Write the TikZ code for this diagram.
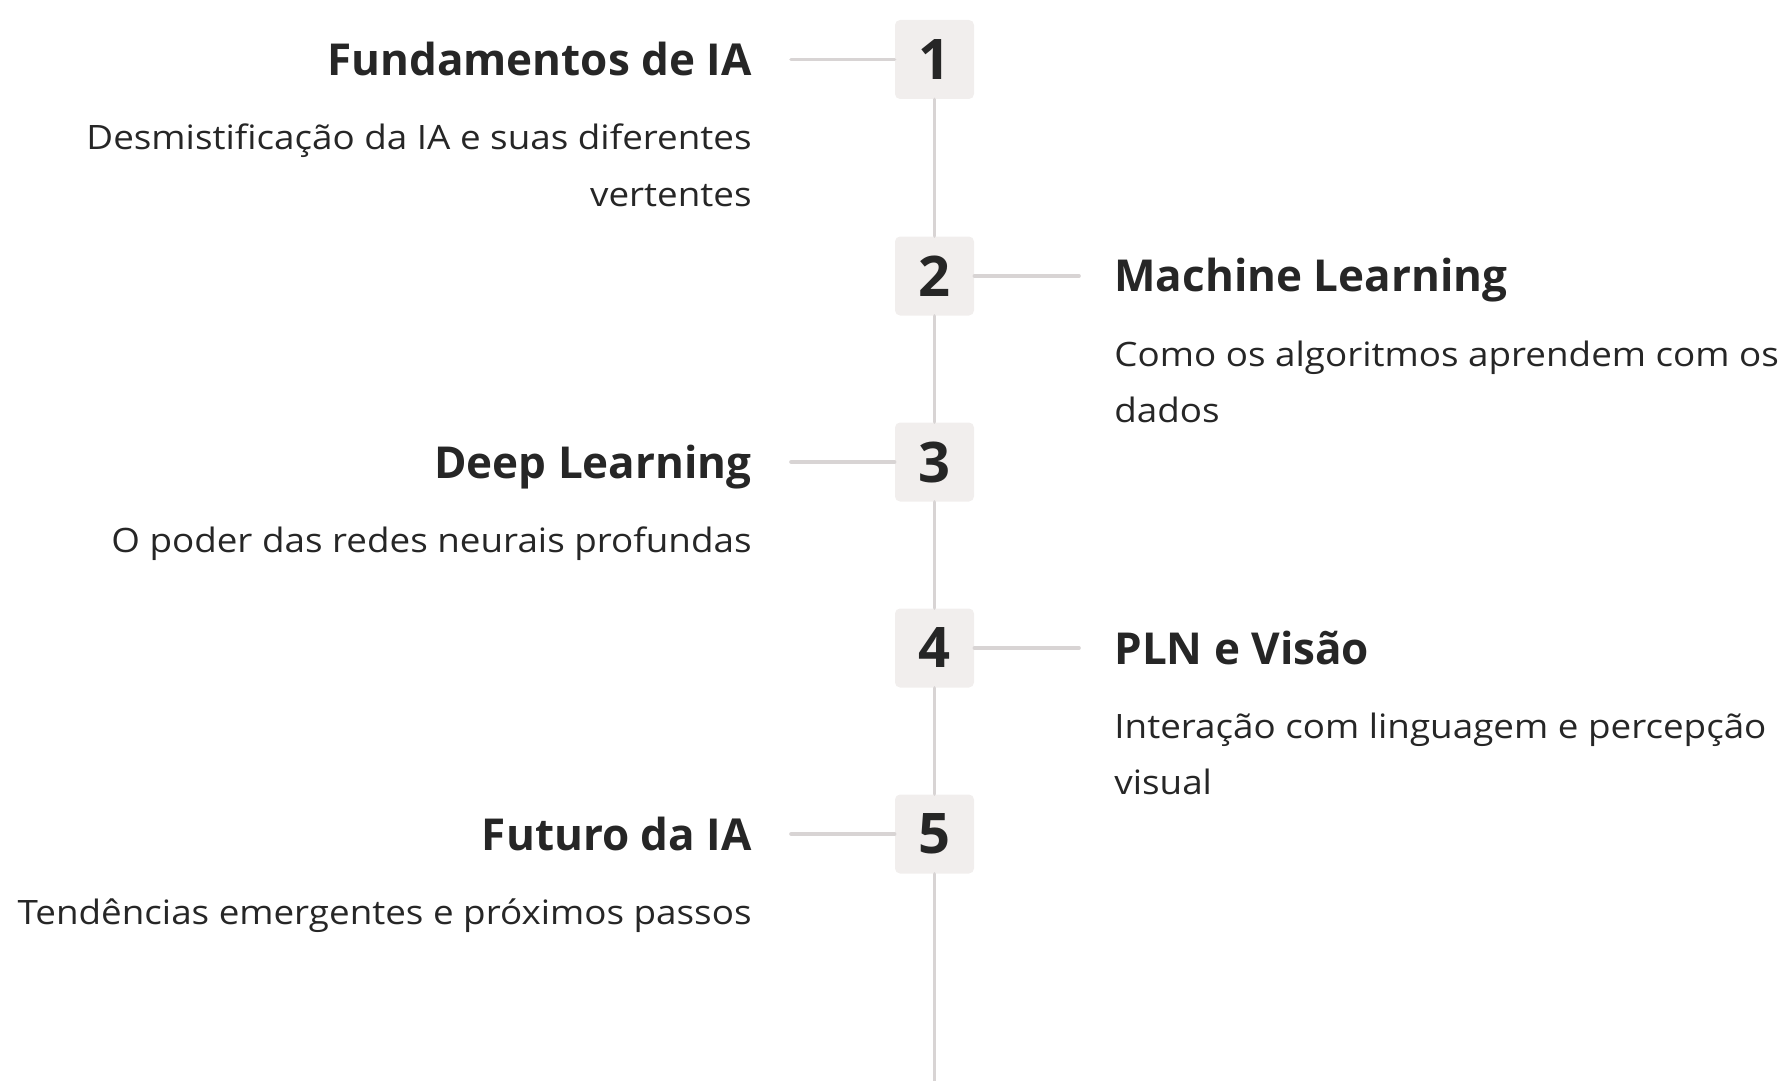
\documentclass[tikz,border=0pt]{standalone}
\usepackage{fontspec}
\setmainfont{Open Sans}[FakeStretch=1.095, BoldFeatures={FakeStretch=1.0}]
\definecolor{boxfill}{HTML}{F1EEED}
\definecolor{linegray}{HTML}{D8D4D4}
\definecolor{ink}{HTML}{262626}
\begin{document}
\begin{tikzpicture}[x=0.5pt,y=-0.5pt,
  numbox/.style={fill=boxfill, rounded corners=2.5pt, minimum size=39.5pt, inner sep=0pt, text=ink, font=\fontsize{28}{28}\selectfont\bfseries},
  ttl/.style={inner sep=0pt, text=ink, font=\fontsize{22}{26}\selectfont\bfseries},
  desc/.style={inner sep=0pt, text=ink, font=\fontsize{16.8}{28.3}\selectfont},
  link/.style={draw=linegray, line width=1.8pt, line cap=round}]
\useasboundingbox (0,0) rectangle (1779,1081);
% steps on the time line
\node[numbox] (n1) at (934.5,59.5){1};
\node[numbox] (n2) at (934.5,276){2};
\node[numbox] (n3) at (934.5,462){3};
\node[numbox] (n4) at (934.5,648){4};
\node[numbox] (n5) at (934.5,834){5};
\coordinate (bot) at (934.5,1081);
\draw[link](n1) -- (n2);
\draw[link](n2) -- (n3);
\draw[link](n3) -- (n4);
\draw[link](n4) -- (n5);
\draw[link](n5) -- (bot);
% left side
\coordinate (l1) at (791,59.5);
\coordinate (l3) at (791,462);
\coordinate (l5) at (791,834);
\draw[link](l1) -- (n1);
\draw[link](l3) -- (n3);
\draw[link](l5) -- (n5);
\node[ttl, anchor=base east] (t1) at (752,75.5){Fundamentos de IA};
\node[desc, anchor=base east, align=right] (d1) at (752,206){Desmistificação da IA e suas diferentes\\vertentes};
\node[ttl, anchor=base east] (t3) at (752,478){Deep Learning};
\node[desc, anchor=base east, align=right] (d3) at (752,552){O poder das redes neurais profundas};
\node[ttl, anchor=base east] (t5) at (752,850){Futuro da IA};
\node[desc, anchor=base east, align=right] (d5) at (752,924){Tendências emergentes e próximos passos};
% right side
\coordinate (r2) at (1079,276);
\coordinate (r4) at (1079,648);
\draw[link](n2) -- (r2);
\draw[link](n4) -- (r4);
\node[ttl, anchor=base west] (t2) at (1114,292){Machine Learning};
\node[desc, anchor=base west, align=left] (d2) at (1114,422.6){Como os algoritmos aprendem com os\\dados};
\node[ttl, anchor=base west] (t4) at (1114,664){PLN e Visão};
\node[desc, anchor=base west, align=left] (d4) at (1114,794.6){Interação com linguagem e percepção\\visual};
\end{tikzpicture}
\end{document}
